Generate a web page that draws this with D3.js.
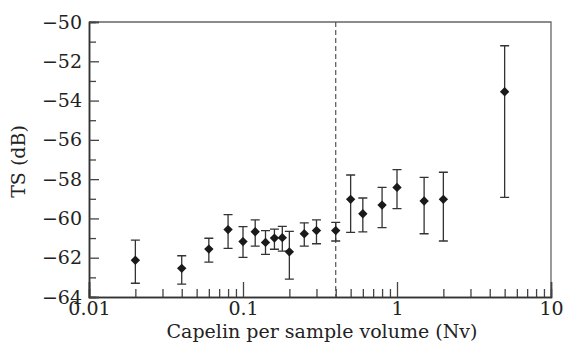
<!DOCTYPE html>
<html>
<head>
<meta charset="utf-8">
<script src="https://cdn.jsdelivr.net/npm/d3@7"></script>
<style>
body { margin: 0; background: white; }
text { font-family: "DejaVu Serif", serif; fill: #222; }
</style>
</head>
<body>
<script>
// Capelin per sample volume (Nv) vs target strength
const nv    = [0.02, 0.04, 0.06, 0.08, 0.10, 0.12, 0.14, 0.16, 0.18, 0.20, 0.25, 0.30, 0.40, 0.50, 0.60, 0.80, 1.0, 1.5, 2.0, 5.0];
const ts    = [-62.13, -62.54, -61.56, -60.57, -61.18, -60.68, -61.22, -61.0, -60.98, -61.7, -60.78, -60.62, -60.62, -59.03, -59.76, -59.32, -58.42, -59.11, -59.03, -53.55];
const tsHi  = [-61.1, -61.9, -61.01, -59.81, -60.42, -60.07, -60.62, -60.54, -60.4, -60.66, -60.23, -60.07, -60.2, -57.79, -58.96, -58.42, -57.52, -57.91, -57.65, -51.21];
const tsLo  = [-63.3, -63.34, -62.22, -61.52, -61.98, -61.41, -61.83, -61.57, -61.66, -63.09, -61.41, -61.29, -61.15, -60.71, -60.68, -60.47, -59.5, -60.78, -61.15, -58.93];
const cutoff = 0.4;

const xTickLabels = ["0.01", "0.1", "1", "10"];
const yTickValues = [-50, -52, -54, -56, -58, -60, -62, -64];

const W = 565, H = 359;
const margin = {top: 22, right: 14, bottom: 62, left: 89};
const width = W - margin.left - margin.right;
const height = H - margin.top - margin.bottom;
const fs = 19;

const svg = d3.select("body").append("svg")
  .attr("width", W)
  .attr("height", H);

const g = svg.append("g")
  .attr("transform", `translate(${margin.left},${margin.top})`);

const x = d3.scaleLog().domain([0.01, 10]).range([0, width]);
const y = d3.scaleLinear().domain([-64, -50]).range([height, 0]);

// frame (top and right)
g.append("path")
  .attr("d", `M0,0H${width}V${height}`)
  .attr("fill", "none")
  .attr("stroke", "#666")
  .attr("stroke-width", 1.3);

// x axis: minor and major ticks, pointing inward
const xMajor = xTickLabels.map(Number);
const xMinor = x.ticks().filter(v => !xMajor.some(m => Math.abs(m - v) < 1e-9));

const xAxisMinor = d3.axisBottom(x).tickValues(xMinor).tickSize(-8).tickFormat("");
const xAxisMajor = d3.axisBottom(x).tickValues(xMajor).tickSize(-15).tickPadding(4)
  .tickFormat((d, i) => xTickLabels[i]);

const gxm = g.append("g").attr("transform", `translate(0,${height})`).call(xAxisMinor);
const gx = g.append("g").attr("transform", `translate(0,${height})`).call(xAxisMajor);
[gxm, gx].forEach(a => {
  a.select(".domain").attr("stroke", "#333").attr("stroke-width", 1.5);
  a.selectAll(".tick line").attr("stroke", "#444").attr("stroke-width", 1.3);
});
gx.selectAll(".tick text")
  .attr("font-family", "DejaVu Serif")
  .attr("font-size", fs)
  .attr("fill", "#222");

// y axis
const yMinor = d3.range(-63, -50, 2);
const yAxisMinor = d3.axisLeft(y).tickValues(yMinor).tickSize(-7).tickFormat("");
const yAxisMajor = d3.axisLeft(y).tickValues(yTickValues).tickSize(-10).tickPadding(7)
  .tickFormat(d => "\u2212" + Math.abs(d));

const gym = g.append("g").call(yAxisMinor);
const gy = g.append("g").call(yAxisMajor);
[gym, gy].forEach(a => {
  a.select(".domain").attr("stroke", "#333").attr("stroke-width", 1.5);
  a.selectAll(".tick line").attr("stroke", "#444").attr("stroke-width", 1.3);
});
gy.selectAll(".tick text")
  .attr("font-family", "DejaVu Serif")
  .attr("font-size", fs)
  .attr("fill", "#222")
  .attr("x", -7);

// dashed cutoff line
g.append("line")
  .attr("x1", x(cutoff)).attr("x2", x(cutoff))
  .attr("y1", 0).attr("y2", height)
  .attr("stroke", "#555")
  .attr("stroke-width", 1.2)
  .attr("stroke-dasharray", "5,3");

// error bars
const pts = nv.map((v, i) => ({x: v, y: ts[i], hi: tsHi[i], lo: tsLo[i]}));
const capW = 4.5;
g.append("g").selectAll("path").data(pts).join("path")
  .attr("d", d => {
    const cx = x(d.x), yh = y(d.hi), yl = y(d.lo);
    return `M${cx},${yh}V${yl}M${cx - capW},${yh}H${cx + capW}M${cx - capW},${yl}H${cx + capW}`;
  })
  .attr("fill", "none")
  .attr("stroke", "#333")
  .attr("stroke-width", 1.3);

// diamond markers
g.append("g").selectAll("path").data(pts).join("path")
  .attr("d", d3.symbol(d3.symbolSquare, 44))
  .attr("transform", d => `translate(${x(d.x)},${y(d.y)}) rotate(45)`)
  .attr("fill", "#1a1a1a");

// axis titles
svg.append("text")
  .attr("x", margin.left + width / 2 + 2)
  .attr("y", H - 21)
  .attr("text-anchor", "middle")
  .attr("font-size", fs)
  .text("Capelin per sample volume (Nv)");

svg.append("text")
  .attr("transform", `translate(25,${margin.top + height / 2 + 2}) rotate(-90)`)
  .attr("text-anchor", "middle")
  .attr("font-size", fs)
  .text("TS (dB)");
</script>
</body>
</html>
